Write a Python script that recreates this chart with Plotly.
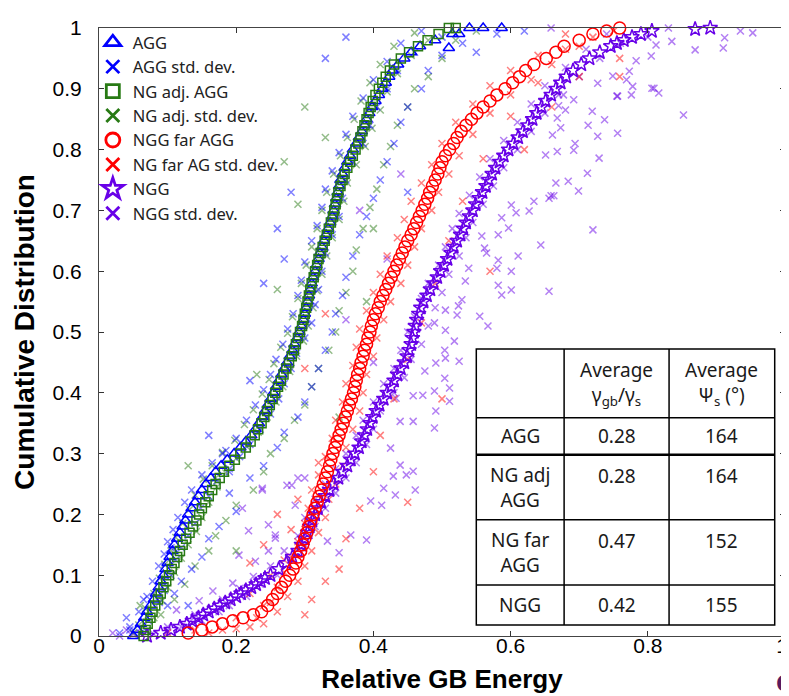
import plotly.graph_objs as go

# ---- mean curves (cumulative distribution) ----
agg_x = [0.05, 0.056, 0.061, 0.066, 0.07, 0.075, 0.08, 0.083, 0.087, 0.09, 0.094, 0.097, 0.1, 0.103,
         0.107, 0.11, 0.114, 0.118, 0.122, 0.126, 0.13, 0.135, 0.14, 0.145, 0.15, 0.156, 0.163, 0.17,
         0.178, 0.187, 0.197, 0.206, 0.214, 0.222, 0.228, 0.233, 0.238, 0.242, 0.246, 0.25, 0.254,
         0.258, 0.262, 0.266, 0.27, 0.274, 0.278, 0.282, 0.285, 0.289, 0.292, 0.295, 0.298, 0.3, 0.302,
         0.304, 0.306, 0.308, 0.31, 0.312, 0.315, 0.317, 0.32, 0.322, 0.325, 0.328, 0.331, 0.334, 0.337,
         0.34, 0.342, 0.344, 0.346, 0.348, 0.35, 0.352, 0.355, 0.358, 0.362, 0.366, 0.37, 0.375, 0.379,
         0.383, 0.387, 0.39, 0.394, 0.398, 0.403, 0.408, 0.413, 0.418, 0.423, 0.428, 0.436, 0.445, 0.455,
         0.468, 0.49, 0.515, 0.54, 0.51, 0.525, 0.56, 0.587]
agg_y = [0.0, 0.01, 0.02, 0.03, 0.04, 0.05, 0.06, 0.07, 0.08, 0.09, 0.1, 0.11, 0.12, 0.13,
         0.14, 0.15, 0.16, 0.17, 0.18, 0.19, 0.2, 0.21, 0.22, 0.23, 0.24, 0.25, 0.26, 0.27,
         0.28, 0.29, 0.3, 0.31, 0.32, 0.33, 0.34, 0.35, 0.36, 0.37, 0.38, 0.39, 0.4,
         0.41, 0.42, 0.43, 0.44, 0.45, 0.46, 0.47, 0.48, 0.49, 0.5, 0.51, 0.52, 0.53, 0.54,
         0.55, 0.56, 0.57, 0.58, 0.59, 0.6, 0.61, 0.62, 0.63, 0.64, 0.65, 0.66, 0.67, 0.68,
         0.69, 0.7, 0.71, 0.72, 0.73, 0.74, 0.75, 0.76, 0.77, 0.78, 0.79, 0.8, 0.81, 0.82,
         0.83, 0.84, 0.85, 0.86, 0.87, 0.88, 0.89, 0.9, 0.91, 0.92, 0.93, 0.94, 0.95, 0.96,
         0.97, 0.98, 0.99, 1.0, 0.967, 0.99, 1.0, 1.0]

ngadj_x = [0.065, 0.068, 0.071, 0.075, 0.078, 0.082, 0.086, 0.09, 0.094, 0.098, 0.102, 0.106, 0.11,
           0.114, 0.118, 0.122, 0.127, 0.132, 0.137, 0.142, 0.146, 0.15, 0.155, 0.16, 0.165, 0.17,
           0.176, 0.182, 0.19, 0.198, 0.206, 0.214, 0.221, 0.227, 0.232, 0.237, 0.241, 0.245, 0.249,
           0.253, 0.257, 0.261, 0.265, 0.269, 0.273, 0.277, 0.281, 0.284, 0.287, 0.29, 0.293, 0.296,
           0.298, 0.3, 0.302, 0.304, 0.306, 0.308, 0.31, 0.313, 0.315, 0.318, 0.32, 0.323, 0.326,
           0.329, 0.332, 0.335, 0.338, 0.341, 0.343, 0.345, 0.347, 0.349, 0.352, 0.355, 0.358, 0.362,
           0.366, 0.37, 0.374, 0.378, 0.381, 0.384, 0.387, 0.39, 0.393, 0.396, 0.399, 0.403, 0.408,
           0.413, 0.418, 0.424, 0.43, 0.44, 0.452, 0.465, 0.479, 0.495, 0.51, 0.52]
ngadj_y = [0.0, 0.01, 0.02, 0.03, 0.04, 0.05, 0.06, 0.07, 0.08, 0.09, 0.1, 0.11, 0.12,
           0.13, 0.14, 0.15, 0.16, 0.17, 0.18, 0.19, 0.2, 0.21, 0.22, 0.23, 0.24, 0.25,
           0.26, 0.27, 0.28, 0.29, 0.3, 0.31, 0.32, 0.33, 0.34, 0.35, 0.36, 0.37, 0.38,
           0.39, 0.4, 0.41, 0.42, 0.43, 0.44, 0.45, 0.46, 0.47, 0.48, 0.49, 0.5, 0.51,
           0.52, 0.53, 0.54, 0.55, 0.56, 0.57, 0.58, 0.59, 0.6, 0.61, 0.62, 0.63, 0.64,
           0.65, 0.66, 0.67, 0.68, 0.69, 0.7, 0.71, 0.72, 0.73, 0.74, 0.75, 0.76, 0.77,
           0.78, 0.79, 0.8, 0.81, 0.82, 0.83, 0.84, 0.85, 0.86, 0.87, 0.88, 0.89, 0.9,
           0.91, 0.92, 0.93, 0.94, 0.95, 0.96, 0.97, 0.98, 0.99, 1.0, 1.0]

ngfar_x = [0.13, 0.15, 0.165, 0.18, 0.195, 0.21, 0.225, 0.237, 0.246, 0.253, 0.26, 0.266, 0.272,
           0.278, 0.283, 0.287, 0.29, 0.294, 0.297, 0.3, 0.303, 0.306, 0.309, 0.312, 0.315, 0.318,
           0.321, 0.324, 0.327, 0.33, 0.333, 0.336, 0.338, 0.341, 0.344, 0.347, 0.35, 0.353, 0.356,
           0.359, 0.362, 0.365, 0.368, 0.371, 0.373, 0.375, 0.377, 0.38, 0.382, 0.385, 0.387, 0.39,
           0.392, 0.395, 0.397, 0.4, 0.403, 0.407, 0.41, 0.414, 0.418, 0.422, 0.426, 0.43, 0.434,
           0.438, 0.442, 0.446, 0.45, 0.455, 0.459, 0.463, 0.467, 0.471, 0.475, 0.479, 0.482, 0.486,
           0.49, 0.494, 0.497, 0.5, 0.505, 0.511, 0.517, 0.522, 0.528, 0.535, 0.543, 0.551, 0.56,
           0.57, 0.58, 0.592, 0.603, 0.613, 0.622, 0.634, 0.652, 0.666, 0.678, 0.7, 0.72, 0.74, 0.759]
ngfar_y = [0.005, 0.01, 0.015, 0.02, 0.025, 0.03, 0.035, 0.04, 0.05, 0.06, 0.07, 0.08, 0.09,
           0.1, 0.11, 0.12, 0.13, 0.14, 0.15, 0.16, 0.17, 0.18, 0.19, 0.2, 0.21, 0.22,
           0.23, 0.24, 0.25, 0.26, 0.27, 0.28, 0.29, 0.3, 0.31, 0.32, 0.33, 0.34, 0.35,
           0.36, 0.37, 0.38, 0.39, 0.4, 0.41, 0.42, 0.43, 0.44, 0.45, 0.46, 0.47, 0.48,
           0.49, 0.5, 0.51, 0.52, 0.53, 0.54, 0.55, 0.56, 0.57, 0.58, 0.59, 0.6, 0.61,
           0.62, 0.63, 0.64, 0.65, 0.66, 0.67, 0.68, 0.69, 0.7, 0.71, 0.72, 0.73, 0.74,
           0.75, 0.76, 0.77, 0.78, 0.79, 0.8, 0.81, 0.82, 0.83, 0.84, 0.85, 0.86, 0.87,
           0.88, 0.89, 0.9, 0.91, 0.92, 0.93, 0.94, 0.95, 0.96, 0.97, 0.98, 0.99, 0.995, 1.0]

ngg_x = [0.07, 0.09, 0.105, 0.118, 0.128, 0.136, 0.145, 0.152, 0.16, 0.168, 0.176, 0.184, 0.192,
         0.2, 0.207, 0.214, 0.222, 0.229, 0.236, 0.242, 0.25, 0.262, 0.273, 0.282, 0.29, 0.295,
         0.3, 0.304, 0.307, 0.311, 0.315, 0.319, 0.324, 0.33, 0.336, 0.342, 0.349, 0.355, 0.362,
         0.367, 0.373, 0.379, 0.383, 0.387, 0.391, 0.395, 0.399, 0.404, 0.409, 0.415, 0.42, 0.426,
         0.43, 0.435, 0.44, 0.445, 0.449, 0.452, 0.455, 0.457, 0.459, 0.461, 0.463, 0.466, 0.469,
         0.473, 0.478, 0.483, 0.488, 0.493, 0.498, 0.503, 0.508, 0.513, 0.517, 0.522, 0.527, 0.531,
         0.535, 0.54, 0.545, 0.549, 0.554, 0.559, 0.564, 0.568, 0.573, 0.578, 0.584, 0.59, 0.597,
         0.604, 0.611, 0.618, 0.625, 0.632, 0.638, 0.645, 0.651, 0.659, 0.666, 0.673, 0.681, 0.691,
         0.703, 0.715, 0.73, 0.746, 0.755, 0.765, 0.777, 0.79, 0.806, 0.869, 0.891]
ngg_y = [0.0, 0.005, 0.01, 0.015, 0.02, 0.025, 0.03, 0.035, 0.04, 0.045, 0.05, 0.055, 0.06,
         0.065, 0.07, 0.075, 0.08, 0.085, 0.09, 0.095, 0.1, 0.11, 0.12, 0.13, 0.14, 0.15,
         0.16, 0.17, 0.18, 0.19, 0.2, 0.21, 0.22, 0.23, 0.24, 0.25, 0.26, 0.27, 0.28,
         0.29, 0.3, 0.31, 0.32, 0.33, 0.34, 0.35, 0.36, 0.37, 0.38, 0.39, 0.4, 0.41,
         0.42, 0.43, 0.44, 0.45, 0.46, 0.47, 0.48, 0.49, 0.5, 0.51, 0.52, 0.53, 0.54,
         0.55, 0.56, 0.57, 0.58, 0.59, 0.6, 0.61, 0.62, 0.63, 0.64, 0.65, 0.66, 0.67,
         0.68, 0.69, 0.7, 0.71, 0.72, 0.73, 0.74, 0.75, 0.76, 0.77, 0.78, 0.79, 0.8,
         0.81, 0.82, 0.83, 0.84, 0.85, 0.86, 0.87, 0.88, 0.89, 0.9, 0.91, 0.92, 0.93,
         0.94, 0.95, 0.96, 0.97, 0.975, 0.98, 0.985, 0.99, 0.995, 0.998, 1.0]

# ---- std. dev. scatter: points hugging each curve ----
agg_sd_near_x = [0.06, 0.045, 0.072, 0.058, 0.088, 0.07, 0.095, 0.078, 0.105, 0.087, 0.112, 0.095, 0.12,
                 0.1, 0.13, 0.108, 0.14, 0.115, 0.148, 0.125, 0.16, 0.135, 0.172, 0.15, 0.19, 0.165,
                 0.205, 0.185, 0.22, 0.2, 0.235, 0.215, 0.25, 0.228, 0.262, 0.24, 0.27, 0.25, 0.28,
                 0.258, 0.288, 0.268, 0.3, 0.275, 0.31, 0.283, 0.315, 0.29, 0.32, 0.295, 0.325, 0.3,
                 0.33, 0.31, 0.34, 0.318, 0.35, 0.325, 0.355, 0.33, 0.36, 0.34, 0.37, 0.35, 0.385, 0.36,
                 0.395, 0.37, 0.405, 0.385, 0.42, 0.4, 0.435, 0.42, 0.46, 0.44, 0.5, 0.47]
agg_sd_near_y = [0.005, 0.01, 0.025, 0.04, 0.055, 0.065, 0.075, 0.09, 0.1, 0.115, 0.125, 0.135, 0.145,
                 0.155, 0.165, 0.175, 0.185, 0.195, 0.21, 0.22, 0.23, 0.24, 0.255, 0.265, 0.275, 0.285,
                 0.295, 0.305, 0.315, 0.325, 0.34, 0.355, 0.365, 0.38, 0.39, 0.405, 0.415, 0.43, 0.44,
                 0.455, 0.465, 0.48, 0.49, 0.505, 0.515, 0.53, 0.545, 0.56, 0.57, 0.585, 0.6, 0.615,
                 0.63, 0.65, 0.66, 0.675, 0.69, 0.705, 0.72, 0.735, 0.75, 0.765, 0.78, 0.795, 0.81, 0.825,
                 0.84, 0.855, 0.87, 0.885, 0.9, 0.915, 0.93, 0.945, 0.96, 0.975, 0.985, 0.995]
# ... and the wider spread / outliers
agg_sd_x = [0.03, 0.045, 0.04, 0.1, 0.065, 0.11, 0.12, 0.135, 0.15, 0.105, 0.16, 0.175, 0.2, 0.19,
            0.22, 0.24, 0.18, 0.26, 0.27, 0.29, 0.3, 0.31, 0.32, 0.33, 0.34, 0.345, 0.355, 0.36, 0.37,
            0.38, 0.39, 0.4, 0.41, 0.42, 0.43, 0.44, 0.45, 0.47, 0.48, 0.5, 0.53, 0.58, 0.55, 0.62,
            0.36, 0.16, 0.26, 0.28, 0.45, 0.24, 0.33, 0.13, 0.07, 0.19, 0.22, 0.27]
agg_sd_y = [0.005, 0.015, 0.03, 0.05, 0.06, 0.07, 0.09, 0.11, 0.13, 0.145, 0.16, 0.18, 0.205, 0.235,
            0.26, 0.28, 0.3, 0.31, 0.335, 0.36, 0.385, 0.41, 0.44, 0.47, 0.5, 0.53, 0.56, 0.59, 0.625,
            0.66, 0.69, 0.72, 0.75, 0.78, 0.81, 0.845, 0.87, 0.9, 0.93, 0.955, 0.975, 0.99, 0.96, 0.995,
            0.985, 0.33, 0.67, 0.73, 0.73, 0.58, 0.95, 0.05, 0.008, 0.27, 0.42, 0.62]

ngadj_sd_near_x = [0.07, 0.058, 0.08, 0.068, 0.092, 0.08, 0.1, 0.088, 0.11, 0.096, 0.12, 0.105, 0.13,
                   0.112, 0.142, 0.122, 0.15, 0.132, 0.16, 0.14, 0.172, 0.152, 0.185, 0.165, 0.2, 0.18,
                   0.215, 0.198, 0.232, 0.212, 0.245, 0.225, 0.258, 0.238, 0.268, 0.248, 0.278, 0.255,
                   0.288, 0.265, 0.298, 0.275, 0.305, 0.282, 0.312, 0.29, 0.318, 0.295, 0.325, 0.302,
                   0.332, 0.31, 0.34, 0.318, 0.35, 0.325, 0.357, 0.332, 0.362, 0.342, 0.375, 0.352, 0.388,
                   0.362, 0.398, 0.372, 0.41, 0.382, 0.42, 0.395, 0.435, 0.41, 0.455, 0.43, 0.48, 0.46]
ngadj_sd_near_y = [0.008, 0.018, 0.03, 0.045, 0.058, 0.07, 0.08, 0.095, 0.105, 0.118, 0.128, 0.14, 0.15,
                   0.162, 0.172, 0.185, 0.195, 0.208, 0.22, 0.232, 0.245, 0.258, 0.268, 0.28, 0.292,
                   0.302, 0.312, 0.322, 0.335, 0.348, 0.36, 0.372, 0.385, 0.398, 0.41, 0.422, 0.435,
                   0.448, 0.46, 0.475, 0.485, 0.498, 0.51, 0.525, 0.54, 0.555, 0.568, 0.58, 0.595, 0.61,
                   0.625, 0.64, 0.655, 0.67, 0.685, 0.7, 0.715, 0.73, 0.745, 0.76, 0.775, 0.79, 0.805,
                   0.82, 0.835, 0.85, 0.865, 0.88, 0.895, 0.91, 0.925, 0.94, 0.955, 0.97, 0.98, 0.992]
ngadj_sd_x = [0.05, 0.09, 0.06, 0.11, 0.125, 0.14, 0.16, 0.17, 0.185, 0.2, 0.225, 0.17, 0.24, 0.25,
              0.27, 0.285, 0.3, 0.31, 0.32, 0.335, 0.345, 0.35, 0.36, 0.37, 0.375, 0.385, 0.395, 0.405,
              0.415, 0.425, 0.435, 0.45, 0.46, 0.48, 0.5, 0.52, 0.55, 0.3, 0.27, 0.39, 0.2, 0.13, 0.35,
              0.4, 0.23, 0.26, 0.29, 0.33]
ngadj_sd_y = [0.005, 0.035, 0.05, 0.06, 0.085, 0.115, 0.14, 0.165, 0.19, 0.215, 0.24, 0.26, 0.27, 0.3,
              0.325, 0.355, 0.38, 0.41, 0.44, 0.47, 0.5, 0.535, 0.565, 0.6, 0.635, 0.67, 0.705, 0.735,
              0.775, 0.805, 0.84, 0.87, 0.9, 0.92, 0.95, 0.98, 0.995, 0.87, 0.78, 0.55, 0.14, 0.28, 0.36,
              0.67, 0.43, 0.57, 0.71, 0.82]

ngfar_sd_near_x = [0.16, 0.2, 0.24, 0.23, 0.26, 0.25, 0.275, 0.26, 0.29, 0.27, 0.3, 0.28, 0.31, 0.29,
                   0.32, 0.3, 0.33, 0.305, 0.335, 0.31, 0.345, 0.32, 0.355, 0.33, 0.36, 0.34, 0.37, 0.345,
                   0.38, 0.355, 0.385, 0.36, 0.39, 0.37, 0.4, 0.375, 0.405, 0.38, 0.415, 0.39, 0.425, 0.4,
                   0.44, 0.41, 0.45, 0.42, 0.46, 0.435, 0.47, 0.445, 0.485, 0.455, 0.495, 0.47, 0.51, 0.485,
                   0.525, 0.5, 0.545, 0.52, 0.57, 0.545, 0.6, 0.57, 0.63, 0.6, 0.66, 0.64, 0.7, 0.68]
ngfar_sd_near_y = [0.005, 0.012, 0.02, 0.03, 0.04, 0.055, 0.065, 0.08, 0.09, 0.105, 0.115, 0.13, 0.14,
                   0.155, 0.17, 0.185, 0.195, 0.21, 0.225, 0.24, 0.25, 0.265, 0.28, 0.295, 0.31, 0.325,
                   0.34, 0.355, 0.37, 0.385, 0.4, 0.415, 0.43, 0.445, 0.46, 0.475, 0.49, 0.505, 0.52,
                   0.535, 0.55, 0.565, 0.58, 0.595, 0.61, 0.625, 0.64, 0.655, 0.67, 0.685, 0.7, 0.715,
                   0.73, 0.745, 0.76, 0.775, 0.79, 0.81, 0.825, 0.845, 0.86, 0.875, 0.89, 0.905, 0.915,
                   0.93, 0.94, 0.955, 0.97, 0.99]
ngfar_sd_x = [0.1, 0.14, 0.18, 0.22, 0.2, 0.3, 0.24, 0.31, 0.22, 0.33, 0.25, 0.35, 0.27, 0.24, 0.36,
              0.28, 0.26, 0.38, 0.29, 0.4, 0.32, 0.41, 0.43, 0.45, 0.47, 0.49, 0.51, 0.53, 0.56, 0.6,
              0.64, 0.68, 0.72, 0.759, 0.759, 0.7, 0.3, 0.33, 0.45, 0.5, 0.57, 0.22, 0.62, 0.66, 0.75]
ngfar_sd_y = [0.005, 0.01, 0.01, 0.015, 0.03, 0.035, 0.05, 0.06, 0.07, 0.09, 0.1, 0.11, 0.125, 0.15,
              0.16, 0.175, 0.2, 0.21, 0.225, 0.27, 0.285, 0.33, 0.39, 0.455, 0.515, 0.58, 0.65, 0.715,
              0.785, 0.855, 0.91, 0.965, 0.985, 0.95, 0.92, 0.92, 0.44, 0.53, 0.22, 0.39, 0.6, 0.12, 0.8,
              0.87, 0.995]

ngg_sd_near_x = [0.05, 0.1, 0.12, 0.15, 0.14, 0.175, 0.19, 0.18, 0.215, 0.205, 0.235, 0.225, 0.26, 0.25,
                 0.28, 0.27, 0.3, 0.29, 0.315, 0.3, 0.33, 0.315, 0.345, 0.33, 0.36, 0.345, 0.375, 0.36,
                 0.39, 0.375, 0.4, 0.385, 0.41, 0.4, 0.43, 0.415, 0.445, 0.43, 0.455, 0.44, 0.47, 0.45,
                 0.48, 0.46, 0.49, 0.47, 0.5, 0.48, 0.51, 0.495, 0.525, 0.505, 0.535, 0.515, 0.545,
                 0.525, 0.56, 0.54, 0.575, 0.555, 0.59, 0.57, 0.61, 0.59, 0.63, 0.61, 0.65, 0.63, 0.67,
                 0.65, 0.7, 0.68, 0.73, 0.71, 0.76, 0.74, 0.8]
ngg_sd_near_y = [0.003, 0.008, 0.015, 0.025, 0.035, 0.04, 0.05, 0.06, 0.065, 0.078, 0.085, 0.098, 0.1,
                 0.115, 0.125, 0.14, 0.15, 0.165, 0.18, 0.195, 0.21, 0.225, 0.235, 0.25, 0.26, 0.275,
                 0.285, 0.3, 0.315, 0.33, 0.34, 0.355, 0.37, 0.385, 0.4, 0.415, 0.425, 0.44, 0.455, 0.47,
                 0.48, 0.5, 0.51, 0.525, 0.54, 0.555, 0.565, 0.58, 0.595, 0.61, 0.625, 0.64, 0.655, 0.67,
                 0.68, 0.695, 0.71, 0.725, 0.74, 0.755, 0.77, 0.785, 0.8, 0.815, 0.83, 0.845, 0.86,
                 0.875, 0.89, 0.905, 0.92, 0.935, 0.95, 0.965, 0.975, 0.99, 0.985]
ngg_sd_x = [0.659, 0.83, 0.835, 0.812, 0.869, 0.912, 0.91, 0.935, 0.953, 0.783, 0.805, 0.773, 0.749,
            0.727, 0.769, 0.778, 0.756, 0.776, 0.809, 0.816, 0.852, 0.692, 0.67, 0.68, 0.668, 0.719,
            0.737, 0.713, 0.673, 0.661, 0.756, 0.727, 0.694, 0.692, 0.668, 0.651, 0.729, 0.712, 0.666,
            0.684, 0.699, 0.663, 0.656, 0.659, 0.634, 0.627, 0.601, 0.608, 0.587, 0.597, 0.582, 0.558,
            0.644, 0.72, 0.611, 0.582, 0.562, 0.565, 0.58, 0.601, 0.582, 0.587, 0.601, 0.656, 0.534,
            0.539, 0.529, 0.524, 0.555, 0.567, 0.522, 0.505, 0.489, 0.505, 0.518, 0.504, 0.525, 0.505,
            0.491, 0.475, 0.504, 0.511, 0.489, 0.458, 0.439, 0.458, 0.425, 0.439, 0.448, 0.429, 0.458,
            0.461, 0.432, 0.415, 0.412, 0.396, 0.367, 0.39, 0.35, 0.333, 0.286, 0.3, 0.274, 0.238,
            0.247, 0.228, 0.257, 0.433, 0.472, 0.491, 0.511, 0.489, 0.204, 0.218, 0.195, 0.166, 0.146,
            0.113, 0.138, 0.238, 0.247, 0.257, 0.281, 0.29, 0.209, 0.02, 0.04, 0.03, 0.06, 0.08, 0.1,
            0.4, 0.36, 0.42, 0.38, 0.44, 0.806, 0.755, 0.677]
ngg_sd_y = [1.0, 1.0, 0.978, 0.972, 0.964, 0.984, 0.967, 0.995, 0.992, 0.946, 0.954, 0.929, 0.921,
            0.909, 0.915, 0.904, 0.888, 0.89, 0.901, 0.893, 0.857, 0.882, 0.872, 0.865, 0.852, 0.863,
            0.849, 0.84, 0.836, 0.824, 0.827, 0.822, 0.81, 0.799, 0.797, 0.791, 0.786, 0.761, 0.745,
            0.748, 0.732, 0.724, 0.72, 0.724, 0.715, 0.699, 0.709, 0.696, 0.688, 0.671, 0.66, 0.658,
            0.643, 0.668, 0.625, 0.618, 0.638, 0.63, 0.605, 0.6, 0.577, 0.561, 0.569, 0.567, 0.584,
            0.605, 0.553, 0.543, 0.526, 0.51, 0.528, 0.536, 0.515, 0.503, 0.485, 0.47, 0.452, 0.457,
            0.449, 0.436, 0.424, 0.408, 0.403, 0.395, 0.353, 0.353, 0.309, 0.281, 0.265, 0.263, 0.271,
            0.24, 0.232, 0.243, 0.215, 0.222, 0.166, 0.158, 0.137, 0.156, 0.215, 0.26, 0.248, 0.24,
            0.14, 0.123, 0.166, 0.391, 0.396, 0.37, 0.386, 0.342, 0.133, 0.173, 0.087, 0.074, 0.058,
            0.043, 0.03, 0.243, 0.183, 0.161, 0.248, 0.26, 0.21, 0.005, 0.01, 0.0, 0.012, 0.003, 0.015,
            0.45, 0.52, 0.62, 0.7, 0.76, 0.901, 0.888, 0.89]

# ---- inset table ----
table_head = ["", "Average<br>γ<sub>gb</sub>/γ<sub>s</sub>", "Average<br>Ψ<sub>s</sub> (°)"]
table_rows = ["AGG", "NG adj<br>AGG", "NG far<br>AGG", "NGG"]
table_gamma = ["0.28", "0.28", "0.47", "0.42"]
table_psi = ["164", "164", "152", "155"]

x_ticks = [0, 0.2, 0.4, 0.6, 0.8, 1]
x_ticktext = ['0', '0.2', '0.4', '0.6', '0.8', '1\u00a0']

BLUE = 'rgb(0,0,255)'
GREEN = 'rgb(40,122,20)'
RED = 'rgb(255,0,0)'
PURPLE = 'rgb(104,0,232)'


def fade(rgb, a):
    return rgb.replace('rgb', 'rgba').replace(')', f',{a})')


data = []
# std. dev. clouds first so the means sit on top
for xs, ys, c in [(ngg_sd_x + ngg_sd_near_x, ngg_sd_y + ngg_sd_near_y, PURPLE),
                  (ngfar_sd_x + ngfar_sd_near_x, ngfar_sd_y + ngfar_sd_near_y, RED),
                  (ngadj_sd_x + ngadj_sd_near_x, ngadj_sd_y + ngadj_sd_near_y, GREEN),
                  (agg_sd_x + agg_sd_near_x, agg_sd_y + agg_sd_near_y, BLUE)]:
    data.append(go.Scatter(x=xs, y=ys, mode='markers', showlegend=False, cliponaxis=False,
                           marker=dict(symbol='x-thin', size=7,
                                       line=dict(color=fade(c, 0.5), width=1.5))))

for xs, ys, sym, c, sz in [(ngg_x, ngg_y, 'star-open', PURPLE, 11),
                           (ngfar_x, ngfar_y, 'circle-open', RED, 12),
                           (agg_x, agg_y, 'triangle-up-open', BLUE, 10),
                           (ngadj_x, ngadj_y, 'square-open', GREEN, 9)]:
    data.append(go.Scatter(x=xs, y=ys, mode='markers', showlegend=False, cliponaxis=False,
                           marker=dict(symbol=sym, size=sz, color=c, line=dict(color=c, width=1.5))))

# legend entries (opaque, bigger than the plotted marks)
legend_items = [('AGG', 'triangle-up-open', BLUE, 14), ('AGG std. dev.', 'x-thin', BLUE, 13),
                ('NG adj. AGG', 'square-open', GREEN, 13), ('NG adj. std. dev.', 'x-thin', GREEN, 13),
                ('NGG far AGG', 'circle-open', RED, 14), ('NG far AG std. dev.', 'x-thin', RED, 13),
                ('NGG', 'star-open', PURPLE, 16), ('NGG std. dev.', 'x-thin', PURPLE, 13)]
for name, sym, c, sz in legend_items:
    data.append(go.Scatter(x=[None], y=[None], mode='markers', name=name,
                           marker=dict(symbol=sym, size=sz, color=c, line=dict(color=c, width=2.8))))

# table geometry in data coords
tx = [0.55, 0.678, 0.831, 0.985]
ty = [0.472, 0.359, 0.298, 0.191, 0.084, 0.018]
shapes = [dict(type='rect', x0=tx[0], x1=tx[-1], y0=ty[-1], y1=ty[0], xref='x', yref='y',
               fillcolor='white', line=dict(color='black', width=1.5), layer='above')]
for v in tx[1:-1]:
    shapes.append(dict(type='line', x0=v, x1=v, y0=ty[-1], y1=ty[0], xref='x', yref='y',
                       line=dict(color='black', width=1.5), layer='above'))
for i, h in enumerate(ty[1:-1]):
    shapes.append(dict(type='line', x0=tx[0], x1=tx[-1], y0=h, y1=h, xref='x', yref='y',
                       line=dict(color='black', width=2.5 if i == 1 else 1.5), layer='above'))

tfont = dict(family='Noto Sans, Open Sans, sans-serif', size=19, color='#1a1a1a')
annotations = []
for j, txt in enumerate(table_head):
    if txt:
        annotations.append(dict(x=(tx[j] + tx[j + 1]) / 2, y=(ty[0] + ty[1]) / 2, xref='x', yref='y',
                                text=txt, showarrow=False, font=tfont))
lineh = 0.037
for i, lab in enumerate(table_rows):
    cy = (ty[i + 1] + ty[i + 2]) / 2
    nl = lab.count('<br>') + 1
    vy = cy + (nl - 1) * lineh / 2
    annotations.append(dict(x=(tx[0] + tx[1]) / 2, y=cy, xref='x', yref='y', text=lab,
                            showarrow=False, font=tfont))
    annotations.append(dict(x=(tx[1] + tx[2]) / 2, y=vy, xref='x', yref='y', text=table_gamma[i],
                            showarrow=False, font=tfont))
    annotations.append(dict(x=(tx[2] + tx[3]) / 2, y=vy, xref='x', yref='y', text=table_psi[i],
                            showarrow=False, font=tfont))

# panel letter peeking in at the lower right corner
annotations.append(dict(x=0.984, y=-0.074, xref='paper', yref='paper', xanchor='left', yanchor='middle',
                        text='<b>c</b>', showarrow=False,
                        font=dict(family='Liberation Sans', size=30, color='#5a1a5e')))

axis = dict(range=[0, 1], showgrid=False, zeroline=False, ticks='inside', ticklen=5,
            tickcolor='#333', showline=True, linecolor='#444', linewidth=1, mirror='ticks',
            ticklabeloverflow='allow',
            tickfont=dict(family='Liberation Sans, Arial', size=21, color='black'))

layout = go.Layout(
    width=789, height=696,
    margin=go.layout.Margin(l=91, r=3, t=20, b=68),
    paper_bgcolor='white', plot_bgcolor='white',
    xaxis=dict(axis, tickvals=x_ticks, ticktext=x_ticktext, ticklabelstandoff=-9,
               title=dict(text='<b>Relative GB Energy</b>', standoff=13,
                          font=dict(family='Liberation Sans, Arial', size=26, color='black'))),
    yaxis=dict(axis, dtick=0.1, ticklabelstandoff=12,
               title=dict(text='<b>Cumulative Distribution</b>', standoff=9,
                          font=dict(family='Liberation Sans, Arial', size=28, color='black'))),
    legend=dict(x=-0.009, y=1.005, xanchor='left', yanchor='top', bgcolor='rgba(0,0,0,0)',
                font=dict(family='Noto Sans, Open Sans, sans-serif', size=16.5, color='#222'),
                tracegroupgap=0, itemsizing='trace'),
    shapes=shapes, annotations=annotations,
)

fig = go.Figure(data=data, layout=layout)
fig.write_html("out.html")
